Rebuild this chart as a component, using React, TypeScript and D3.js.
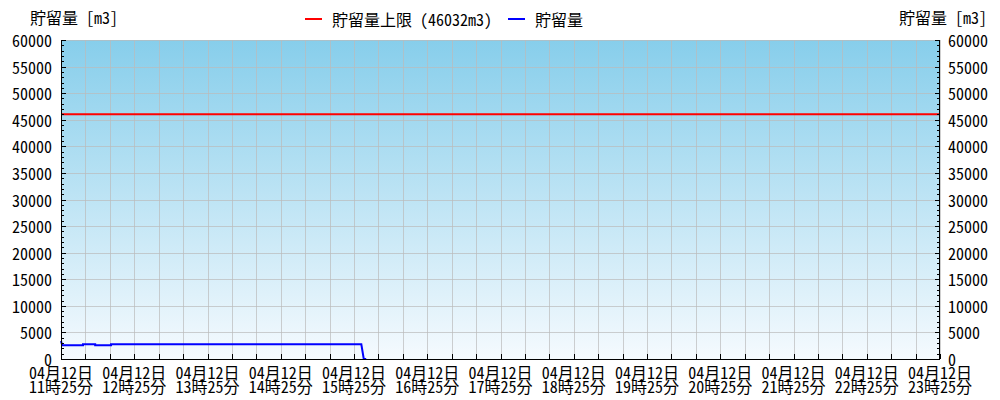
import React from "react";
import * as d3 from "d3";

const TITLE = "貯留量 [m3]";
const LIMIT_LABEL = "貯留量上限 (46032m3)";
const SERIES_LABEL = "貯留量";
const LIMIT_VALUE = 46032;
const START_TIME = "2024-04-12T11:25";
const END_TIME = "2024-04-12T23:25";
const Y_MAX = 60000;

const storageTimes = [
  "2024-04-12T11:25",
  "2024-04-12T11:26",
  "2024-04-12T11:43",
  "2024-04-12T11:43",
  "2024-04-12T11:53",
  "2024-04-12T11:53",
  "2024-04-12T12:06",
  "2024-04-12T12:06",
  "2024-04-12T15:31",
  "2024-04-12T15:33",
  "2024-04-12T15:35",
];
const storageValues = [3400, 2580, 2580, 2760, 2760, 2580, 2580, 2760, 2760, 0, 0];

const W = 1000;
const H = 400;
const L = 61;
const R = 940;
const T = 40;
const B = 359;
const FONT = "'Noto Sans Mono CJK JP', 'DejaVu Sans Mono', 'Noto Sans CJK JP', monospace";

export default function App() {
  const parse = d3.timeParse("%Y-%m-%dT%H:%M");
  const start = parse(START_TIME)!;
  const end = parse(END_TIME)!;
  const x = d3.scaleTime().domain([start, end]).range([L, R]);
  const y = d3.scaleLinear().domain([0, Y_MAX]).range([B, T]);

  const gridTimes = d3.timeMinute.every(1)!.range(start, d3.timeMinute.offset(end, 1)).filter(
    (d) => ((d.getTime() - start.getTime()) / 60000) % 20 === 0
  );
  const hourTimes = gridTimes.filter((d) => ((d.getTime() - start.getTime()) / 60000) % 60 === 0);
  const majorY = d3.range(0, Y_MAX + 1, 5000);
  const minorY = d3.range(0, Y_MAX + 1, 1000).filter((v) => v % 5000 !== 0);

  const pts = storageTimes.map((t, i) => [x(parse(t)!), y(storageValues[i])] as [number, number]);
  const line = d3.line()(pts) || "";

  const fmt1 = d3.timeFormat("%m月%d日");
  const fmt2 = d3.timeFormat("%H時%M分");

  return (
    <svg width={W} height={H} style={{ position: "absolute", left: 0, top: 0 }} fontFamily={FONT}>
      <defs>
        <linearGradient id="bg" x1="0" y1="0" x2="0" y2="1">
          <stop offset="0%" stopColor="#87CEEB" />
          <stop offset="100%" stopColor="#F5FAFE" />
        </linearGradient>
      </defs>
      <rect x={L} y={T} width={R - L} height={B - T} fill="url(#bg)" />
      {majorY.map((v) => (
        <line key={"gy" + v} x1={L} x2={R} y1={Math.round(y(v)) + 0.5} y2={Math.round(y(v)) + 0.5} stroke="#bbbbbb" strokeOpacity={0.7} strokeWidth={1} />
      ))}
      {gridTimes.map((d, i) => (
        <line key={"gx" + i} x1={Math.round(x(d)) + 0.5} x2={Math.round(x(d)) + 0.5} y1={T} y2={B} stroke="#bbbbbb" strokeOpacity={0.7} strokeWidth={1} />
      ))}
      <line x1={L} x2={R} y1={y(LIMIT_VALUE)} y2={y(LIMIT_VALUE)} stroke="#ff0000" strokeWidth={2} />
      <path d={line} fill="none" stroke="#0000ff" strokeWidth={2} />
      {/* axes */}
      <line x1={L + 0.5} x2={L + 0.5} y1={T} y2={B} stroke="#000" />
      <line x1={R - 0.5} x2={R - 0.5} y1={T} y2={B} stroke="#000" />
      <line x1={L} x2={R} y1={B + 0.5} y2={B + 0.5} stroke="#000" />
      {majorY.map((v) => (
        <g key={"ty" + v}>
          <line x1={L} x2={L + 5} y1={Math.round(y(v)) + 0.5} y2={Math.round(y(v)) + 0.5} stroke="#000" />
          <line x1={R - 5} x2={R} y1={Math.round(y(v)) + 0.5} y2={Math.round(y(v)) + 0.5} stroke="#000" />
          <text x={52} y={y(v)} textAnchor="end" dominantBaseline="central" fontSize={16} fill="#000">{v}</text>
          <text x={948} y={y(v)} textAnchor="start" dominantBaseline="central" fontSize={16} fill="#000">{v}</text>
        </g>
      ))}
      {minorY.map((v) => (
        <g key={"my" + v}>
          <line x1={L} x2={L + 3} y1={Math.round(y(v)) + 0.5} y2={Math.round(y(v)) + 0.5} stroke="#000" />
          <line x1={R - 3} x2={R} y1={Math.round(y(v)) + 0.5} y2={Math.round(y(v)) + 0.5} stroke="#000" />
        </g>
      ))}
      {gridTimes.map((d, i) => (
        <line key={"tx" + i} x1={Math.round(x(d)) + 0.5} x2={Math.round(x(d)) + 0.5} y1={B - 5} y2={B} stroke="#000" />
      ))}
      {hourTimes.map((d, i) => (
        <g key={"lx" + i}>
          <text x={x(d)} y={372} textAnchor="middle" dominantBaseline="central" fontSize={16} fill="#000">{fmt1(d)}</text>
          <text x={x(d)} y={386} textAnchor="middle" dominantBaseline="central" fontSize={16} fill="#000">{fmt2(d)}</text>
        </g>
      ))}
      {/* titles */}
      <text x={30} y={17} dominantBaseline="central" fontSize={16} fill="#000">{TITLE}</text>
      <text x={987} y={17} textAnchor="end" dominantBaseline="central" fontSize={16} fill="#000">{TITLE}</text>
      {/* legend */}
      <line x1={305} x2={322} y1={19} y2={19} stroke="#ff0000" strokeWidth={2} />
      <text x={332} y={19} dominantBaseline="central" fontSize={16} fill="#000">{LIMIT_LABEL}</text>
      <line x1={508} x2={525} y1={19} y2={19} stroke="#0000ff" strokeWidth={2} />
      <text x={535} y={19} dominantBaseline="central" fontSize={16} fill="#000">{SERIES_LABEL}</text>
    </svg>
  );
}
